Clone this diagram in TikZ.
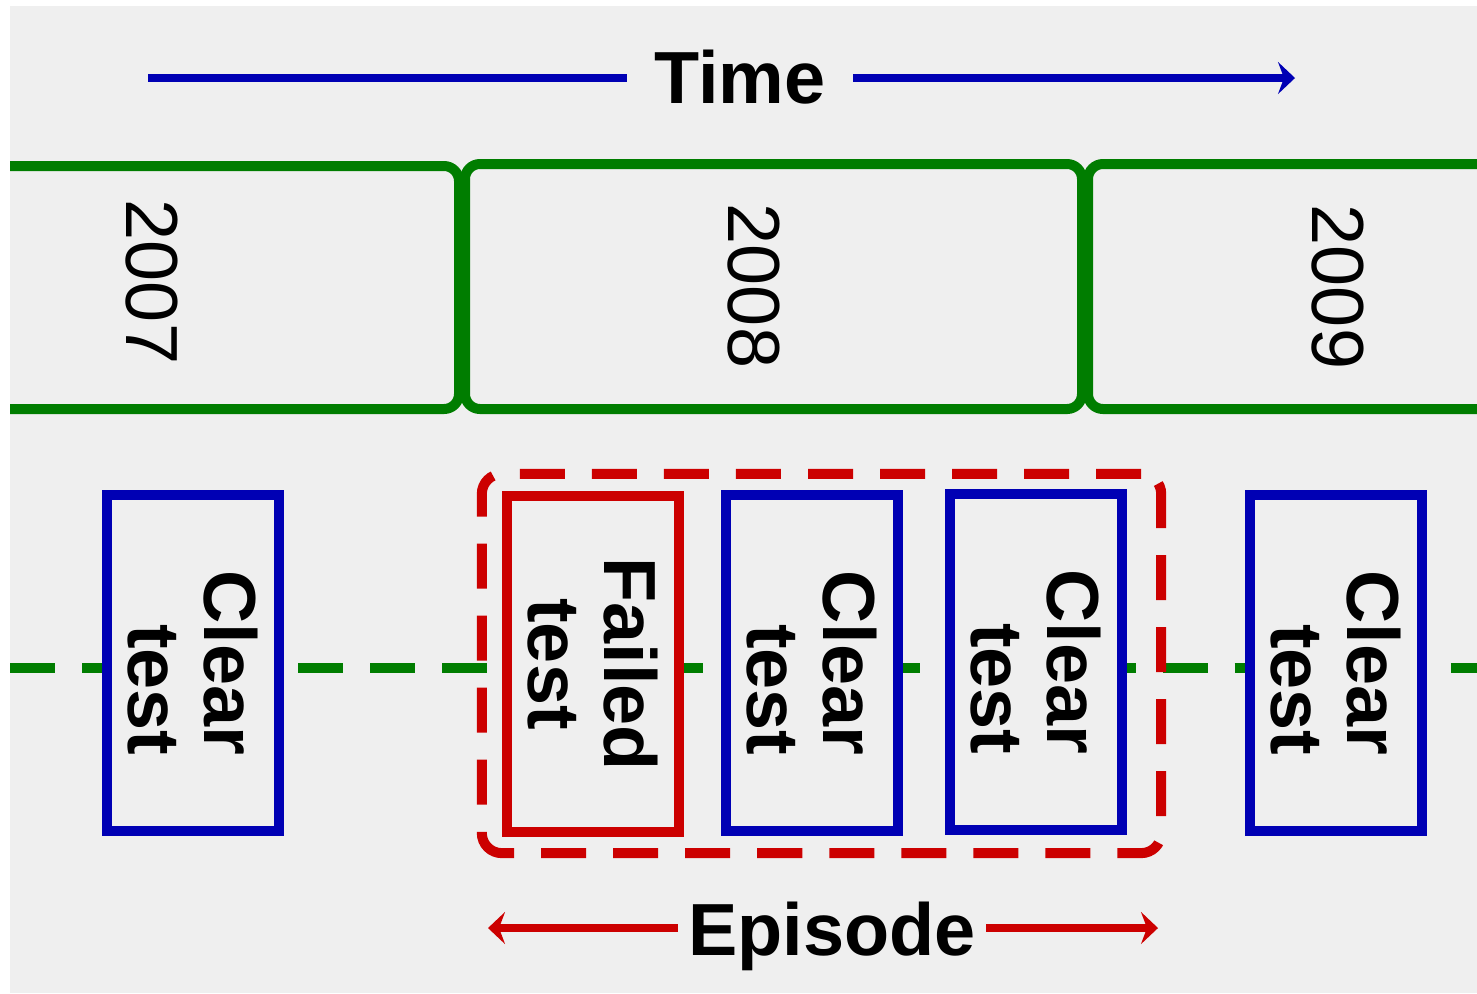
\documentclass[tikz,border=0pt]{standalone}
\usepackage{fontspec}
\setmainfont{Liberation Sans}
\usepackage{tikz}
\usetikzlibrary{arrows.meta}
\usetikzlibrary{positioning}

\definecolor{yeargreen}{RGB}{0,125,0}
\definecolor{clearblue}{RGB}{0,0,180}
\definecolor{failred}{RGB}{204,0,0}
\definecolor{bggray}{RGB}{239,239,239}

\begin{document}
\begin{tikzpicture}[
    x=0.01cm, y=-0.01cm,
    font=\fontsize{21}{21.6}\selectfont,
    % year blocks
    yearbox/.style={draw=yeargreen, line width=0.1cm, rounded corners=0.15cm},
    yearlbl/.style={rotate=-90, inner sep=0pt},
    % test boxes (rotated)
    testbox/.style={rectangle, draw, line width=0.1cm, fill=bggray, rotate=-90,
                    minimum width=3.36cm, minimum height=1.72cm, inner sep=0pt,
                    align=center, font=\fontsize{21}{21.6}\selectfont\bfseries},
    clear/.style={testbox, draw=clearblue, align=right},
    failed/.style={testbox, draw=failred},
    episodebox/.style={rectangle, draw=failred, line width=0.1cm, rounded corners=0.2cm,
                       dash pattern=on 0.45cm off 0.27cm,
                       minimum width=6.79cm, minimum height=3.79cm, inner sep=0pt},
    timeline/.style={draw=yeargreen, line width=0.1cm, dash pattern=on 0.45cm off 0.27cm},
    % arrows with labels
    timearrow/.style={-{Stealth[length=0.17cm, width=0.32cm, inset=0.06cm]},
                      draw=clearblue, line width=0.08cm},
    eparrow/.style={{Stealth[length=0.17cm, width=0.32cm, inset=0.06cm]}-{Stealth[length=0.17cm, width=0.32cm, inset=0.06cm]},
                    draw=failred, line width=0.08cm},
    bigword/.style={fill=bggray, anchor=base, inner ysep=0pt,
                    font=\fontsize{21}{21.6}\selectfont\bfseries},
]

% background
\useasboundingbox (0,0) rectangle (1477,993);
\fill[white] (0,0) rectangle (1477,993);
\fill[bggray] (10,6) rectangle (1477,993);

% -------------------------
% Years
% -------------------------
\draw[yearbox] (10,166) -- (459,166) -- (459,409) -- (10,409);
\draw[yearbox] (465,164) rectangle (1082,409);
\draw[yearbox] (1477,164) -- (1088,164) -- (1088,409) -- (1477,409);

\node[yearlbl] (y2007) at (152,282) {2007};
\node[yearlbl] (y2008) at (754,286) {2008};
\node[yearlbl] (y2009) at (1338,287) {2009};

% -------------------------
% Time arrow
% -------------------------
\coordinate (t0) at (148,78);
\coordinate (t1) at (1295,78);
\draw[timearrow] (t0) -- (t1);
\node[bigword, inner xsep=0.27cm] (time) at (740,103) {Time};

% -------------------------
% Tests along the timeline
% -------------------------
\coordinate (l0) at (10,668);
\coordinate (l1) at (1477,668);
\draw[timeline] (l0) -- (l1);

\node[episodebox] (ep) at (821.5,663.5) {};

\node[clear]  (c1) at (193,663)  {Clear\\test};
\node[failed] (f1) at (593,664)  {Failed\\test};
\node[clear]  (c2) at (812,663)  {Clear\\test};
\node[clear]  (c3) at (1036,662) {Clear\\test};
\node[clear]  (c4) at (1336,663) {Clear\\test};

% -------------------------
% Episode arrow
% -------------------------
\coordinate (e0) at (488,928);
\coordinate (e1) at (1158,928);
\draw[eparrow] (e0) -- (e1);
\node[bigword, inner xsep=0.1cm] (episode) at (832,955) {Episode};

\end{tikzpicture}
\end{document}
